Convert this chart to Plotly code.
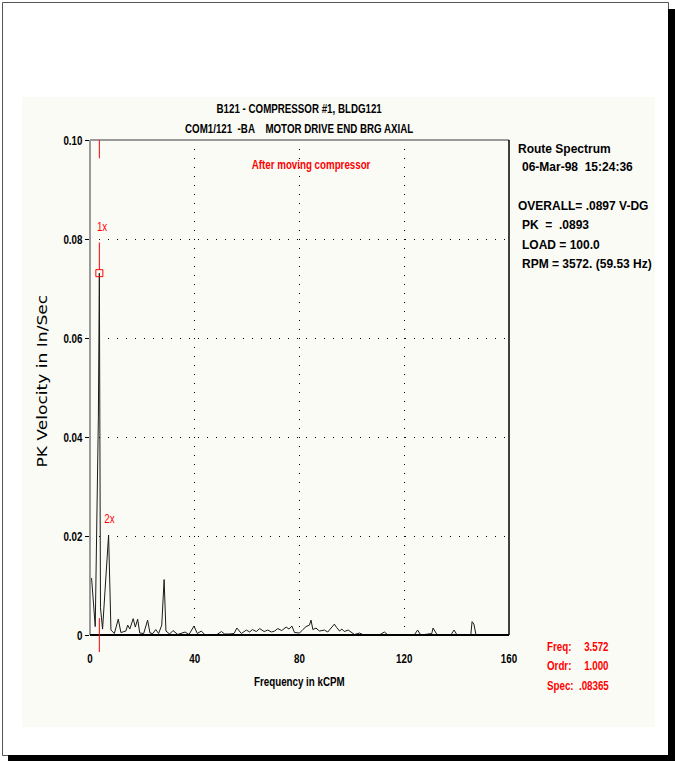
import plotly.graph_objects as go

# ---------------- data ----------------
freq_kcpm = [0.6, 2.0, 3.2, 3.572, 4.0, 4.8, 7.1, 8.0, 9.3, 10.8, 11.8, 13.7, 14.4, 15.2,
             16.5, 17.3, 18.2, 19.0, 20.5, 22.0, 22.9, 24.0, 25.1, 26.2, 27.4, 28.3, 29.0,
             30.4, 31.7, 33.5, 36.3, 37.8, 39.7, 41.0, 42.5, 43.8, 47.0, 48.5, 50.2, 51.4,
             53.3, 55.0, 56.1, 57.8, 59.7, 61.0, 62.0, 63.5, 64.8, 66.5, 67.9, 69.3, 70.5,
             71.7, 73.2, 74.9, 76.0, 77.1, 78.1, 80.0, 81.3, 82.5, 83.8, 84.4, 85.1, 86.3,
             87.6, 89.5, 90.8, 92.4, 93.3, 94.2, 95.3, 96.2, 97.1, 98.6, 99.8, 101.0, 102.9,
             104.5, 110.5, 112.4, 113.8, 119.0, 123.8, 125.1, 126.3, 130.5, 131.0, 131.7,
             132.6, 137.8, 139.0, 140.2, 145.4, 145.9, 146.6, 147.4, 160.0]
amp_in_sec = [0.0115, 0.0017, 0.0440, 0.0731, 0.0055, 0.0012, 0.0202, 0.0010, 0.0003, 0.0032,
              0.0005, 0.0008, 0.0020, 0.0012, 0.0033, 0.0016, 0.0032, 0.0004, 0.0003, 0.0030,
              0.0004, 0.0003, 0.0011, 0.0003, 0.0020, 0.0112, 0.0008, 0.0002, 0.0009, 0.0001,
              0.0006, 0.0001, 0.0018, 0.0003, 0.0008, 0.0001, 0.0001, 0.0001, 0.0007, 0.0002,
              0.0002, 0.0003, 0.0014, 0.0003, 0.0010, 0.0006, 0.0011, 0.0007, 0.0013, 0.0007,
              0.0010, 0.0006, 0.0008, 0.0013, 0.0009, 0.0016, 0.0012, 0.0018, 0.0005, 0.0004,
              0.0011, 0.0017, 0.0020, 0.0030, 0.0011, 0.0014, 0.0008, 0.0010, 0.0006, 0.0016,
              0.0022, 0.0015, 0.0008, 0.0012, 0.0007, 0.0010, 0.0005, 0.0001, 0.0004, 0.0,
              0.0, 0.0006, 0.0, 0.0001, 0.0, 0.0010, 0.0, 0.0003, 0.0014, 0.0008,
              0.0, 0.0, 0.0010, 0.0, 0.0, 0.0027, 0.0022, 0.0, 0.0]

cursor_freq = 3.572
cursor_amp = 0.0731
order_labels = ["1x", "2x"]
order_label_x = [4.6, 7.4]
order_label_y = [0.0822, 0.0232]

x_ticks = [0, 40, 80, 120, 160]
y_ticks = [0, 0.02, 0.04, 0.06, 0.08, 0.10]
y_ticktext = ["0", "0.02", "0.04", "0.06", "0.08", "0.10"]

title_lines = ["B121 - COMPRESSOR #1, BLDG121", "COM1/121  -BA    MOTOR DRIVE END BRG AXIAL"]
note_text = "After moving compressor"
info_lines = ["Route Spectrum", "06-Mar-98  15:24:36", "OVERALL= .0897 V-DG",
              "PK  =  .0893", "LOAD = 100.0", "RPM = 3572. (59.53 Hz)"]
cursor_labels = ["Freq:", "Ordr:", "Spec:"]
cursor_values = ["3.572", "1.000", ".08365"]

# ---------------- layout geometry ----------------
W, H = 675, 761
L, R, T, B = 90, 509, 140, 635   # plot area in pixels
PW, PH = R - L, B - T


def px(x):
    return (x - L) / PW


def py(y):
    return (B - y) / PH


NARROW = "Liberation Sans, sans-serif"          # condensed in the page (see post_script)
PLAIN = "Liberation Sans, Arial, sans-serif"    # left at natural width
WIDE = "DejaVu Sans, sans-serif"                # stretched along its baseline
RED = "#ff0000"

fig = go.Figure()

fig.add_trace(go.Scatter(x=freq_kcpm, y=amp_in_sec, mode="lines",
                         line=dict(color="#1a1a1a", width=1), hoverinfo="skip",
                         showlegend=False))
fig.add_trace(go.Scatter(x=[cursor_freq], y=[cursor_amp], mode="markers",
                         marker=dict(symbol="square-open", color=RED, size=7,
                                     line=dict(width=1, color=RED)),
                         hoverinfo="skip", showlegend=False, cliponaxis=False))
fig.add_trace(go.Scatter(x=order_label_x, y=order_label_y, mode="text", text=order_labels,
                         textfont=dict(family=NARROW, size=13, color=RED),
                         hoverinfo="skip", showlegend=False, cliponaxis=False))

shapes = []
# inner panel
shapes.append(dict(type="rect", xref="paper", yref="paper", x0=px(22), x1=px(655),
                   y0=py(727), y1=py(97), fillcolor="#fbfbf6", line=dict(width=0),
                   layer="below"))
# outer frame + shadow
shapes.append(dict(type="rect", xref="paper", yref="paper", x0=px(2.5), x1=px(668.5),
                   y0=py(755.5), y1=py(2.5), line=dict(color="#555555", width=1),
                   layer="below"))
shapes.append(dict(type="rect", xref="paper", yref="paper", x0=px(668), x1=px(675),
                   y0=py(761), y1=py(9), fillcolor="#000000", line=dict(width=0),
                   layer="below"))
shapes.append(dict(type="rect", xref="paper", yref="paper", x0=px(8), x1=px(675),
                   y0=py(761), y1=py(755), fillcolor="#000000", line=dict(width=0),
                   layer="below"))
# plot borders
shapes.append(dict(type="line", xref="paper", yref="paper", x0=0, x1=0, y0=0, y1=1,
                   line=dict(color="#9a9a9a", width=2)))
shapes.append(dict(type="line", xref="paper", yref="paper", x0=0, x1=1, y0=1, y1=1,
                   line=dict(color="#9a9a9a", width=2)))
shapes.append(dict(type="line", xref="paper", yref="paper", x0=1, x1=1, y0=0, y1=1,
                   line=dict(color="#000000", width=1.5)))
shapes.append(dict(type="line", xref="paper", yref="paper", x0=0, x1=1, y0=0, y1=0,
                   line=dict(color="#000000", width=2)))
# cursor line segments
shapes.append(dict(type="line", xref="x", yref="y", x0=cursor_freq, x1=cursor_freq,
                   y0=0.0963, y1=0.10, line=dict(color=RED, width=1)))
shapes.append(dict(type="line", xref="x", yref="y", x0=cursor_freq, x1=cursor_freq,
                   y0=cursor_amp + 0.0007, y1=0.0793, line=dict(color=RED, width=1)))
shapes.append(dict(type="line", xref="x", yref="paper", x0=cursor_freq, x1=cursor_freq,
                   y0=py(652), y1=py(618), line=dict(color=RED, width=1)))

annotations = []


def ann(text, x, y, size=13, color="black", anchor="center", weight="bold", family=NARROW,
        angle=0):
    annotations.append(dict(text=text, x=px(x), y=py(y), xref="paper", yref="paper",
                            xanchor=anchor, yanchor="middle", showarrow=False,
                            align=anchor if anchor != "center" else "center",
                            textangle=angle,
                            font=dict(family=family, size=size, color=color,
                                      weight=weight)))


ann(title_lines[0], 299, 108)
ann(title_lines[1], 299, 128)
ann(note_text, 311, 164, color=RED)
info_x = [516, 520, 516, 520, 520, 520]
info_y = [149, 167, 206, 225, 245, 264]
for t, xx, yy in zip(info_lines, info_x, info_y):
    ann(t, xx, yy, size=12, anchor="left", family=PLAIN)
cur_y = [646, 665, 685]
for lab, val, yy in zip(cursor_labels, cursor_values, cur_y):
    ann(lab, 545, yy, color=RED, anchor="left")
    ann(val, 611, yy, color=RED, anchor="right")
ann("Frequency in kCPM", 299, 681)
ann("PK Velocity in In/Sec", 42, 381, size=14, weight="normal", family=WIDE, angle=-90)

fig.update_layout(
    width=W, height=H,
    margin=dict(l=L, r=W - R, t=T, b=H - B, pad=0),
    paper_bgcolor="white",
    plot_bgcolor="rgba(0,0,0,0)",
    shapes=shapes,
    annotations=annotations,
    showlegend=False,
    xaxis=dict(range=[0, 160], tickvals=x_ticks, ticktext=[str(v) for v in x_ticks],
               showgrid=True, gridcolor="#000000",
               griddash="1px,8px", gridwidth=1, zeroline=False, showline=False,
               ticks="", ticklabelstandoff=14, automargin=False,
               tickfont=dict(family=NARROW, size=13, color="black", weight="bold"),
               fixedrange=True),
    yaxis=dict(range=[0, 0.10], tickvals=y_ticks, ticktext=y_ticktext,
               showgrid=True, gridcolor="#000000", griddash="1px,8px", gridwidth=1,
               zeroline=False, showline=False, ticks="outside", ticklen=4,
               tickcolor="black", ticklabelstandoff=0, automargin=False,
               tickfont=dict(family=NARROW, size=13, color="black", weight="bold"),
               fixedrange=True),
)

# Page tweaks: no body margin; condense the narrow-font texts and stretch the y title
# along their baselines, the way the original bitmap fonts look.
post_js = """
(function(){
  document.body.style.margin = '0';
  var gd = document.getElementById('{plot_id}');
  function fit(){
    gd.querySelectorAll('text').forEach(function(t){
      var ff = t.style.fontFamily || '';
      var k = null;
      if (ff.indexOf('DejaVu') >= 0) k = 1.22;
      else if (ff.indexOf('Liberation') >= 0 && ff.indexOf('Arial') < 0) k = 0.75;
      if (k === null) return;
      t.removeAttribute('textLength');
      t.removeAttribute('lengthAdjust');
      var len = t.getComputedTextLength();
      if (len > 0) {
        t.setAttribute('lengthAdjust', 'spacingAndGlyphs');
        t.setAttribute('textLength', (len * k).toFixed(2));
      }
    });
  }
  try { fit(); setTimeout(fit, 30); } catch (e) {}
})();
"""

fig.write_html("out.html", post_script=post_js, config={"displayModeBar": False})
